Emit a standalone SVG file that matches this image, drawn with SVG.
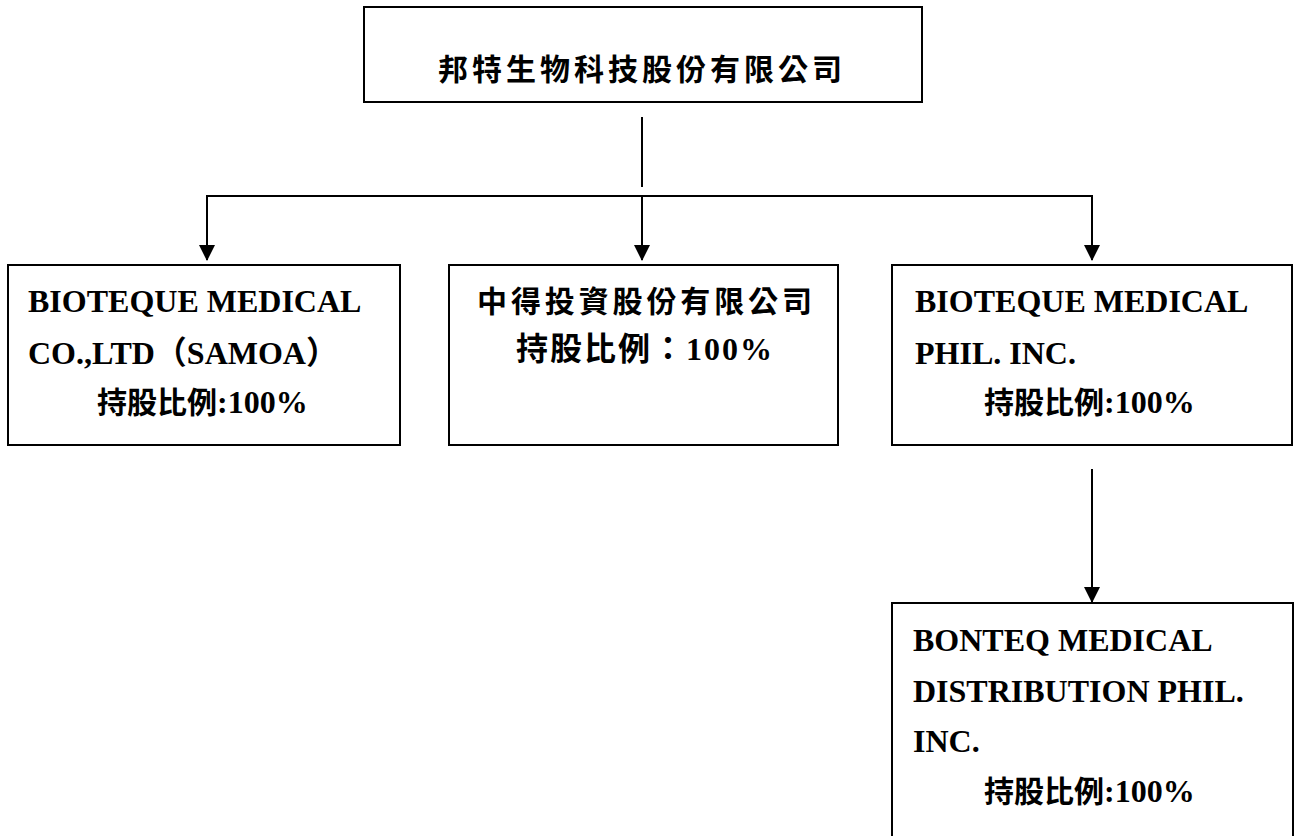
<svg xmlns="http://www.w3.org/2000/svg" width="1296" height="836" viewBox="0 0 1296 836">
<style>
.box{fill:#fff;stroke:#000;stroke-width:2}
.ln{stroke:#000;stroke-width:2;fill:none}
.t{font-family:"Liberation Serif","Noto Sans CJK TC",serif;font-weight:bold;font-size:32px;fill:#000}
.c{font-family:"Noto Sans CJK TC","Noto Sans CJK SC",sans-serif;font-weight:bold;font-size:30px;fill:#000}
.k{font-family:"Noto Sans CJK TC","Noto Sans CJK SC",sans-serif;font-size:30px}
</style>
<defs>
<marker id="ah" markerUnits="userSpaceOnUse" markerWidth="16" markerHeight="18" refX="15" refY="8" orient="auto">
<path d="M0,0 L16,8 L0,16 Z" fill="#000"/>
</marker>
</defs>
<rect width="1296" height="836" fill="#fff"/>
<g id="connectors">
<line class="ln" x1="642" y1="117" x2="642" y2="187"/>
<line class="ln" x1="206" y1="196" x2="1093" y2="196"/>
<line class="ln" x1="207" y1="196" x2="207" y2="260" marker-end="url(#ah)"/>
<line class="ln" x1="642" y1="196" x2="642" y2="260" marker-end="url(#ah)"/>
<line class="ln" x1="1092" y1="196" x2="1092" y2="260" marker-end="url(#ah)"/>
<line class="ln" x1="1092" y1="469" x2="1092" y2="602" marker-end="url(#ah)"/>
</g>
<g id="parent">
<rect class="box" x="364" y="7" width="558" height="95"/>
<text class="c" x="640" y="80" text-anchor="middle" textLength="404" lengthAdjust="spacing">邦特生物科技股份有限公司</text>
</g>
<g id="samoa">
<rect class="box" x="8" y="265" width="392" height="180"/>
<text class="t" x="28" y="312">BIOTEQUE MEDICAL</text>
<text class="t" x="28" y="364">CO.,LTD（SAMOA）</text>
<text class="t" x="97" y="413"><tspan class="k">持股比例</tspan>:100%</text>
</g>
<g id="zhongde">
<rect class="box" x="449" y="265" width="389" height="180"/>
<text class="c" x="644.5" y="312" text-anchor="middle" textLength="335" lengthAdjust="spacing">中得投資股份有限公司</text>
<text class="t" x="644" y="360" text-anchor="middle" textLength="256" lengthAdjust="spacing">持股比例：100%</text>
</g>
<g id="phil">
<rect class="box" x="892" y="265" width="400" height="180"/>
<text class="t" x="915" y="312">BIOTEQUE MEDICAL</text>
<text class="t" x="915" y="364">PHIL. INC.</text>
<text class="t" x="984" y="413"><tspan class="k">持股比例</tspan>:100%</text>
</g>
<g id="bonteq">
<rect class="box" x="892" y="603" width="401" height="240"/>
<text class="t" x="913" y="651">BONTEQ MEDICAL</text>
<text class="t" x="913" y="702">DISTRIBUTION PHIL.</text>
<text class="t" x="913" y="752">INC.</text>
<text class="t" x="984" y="802"><tspan class="k">持股比例</tspan>:100%</text>
</g>
</svg>
